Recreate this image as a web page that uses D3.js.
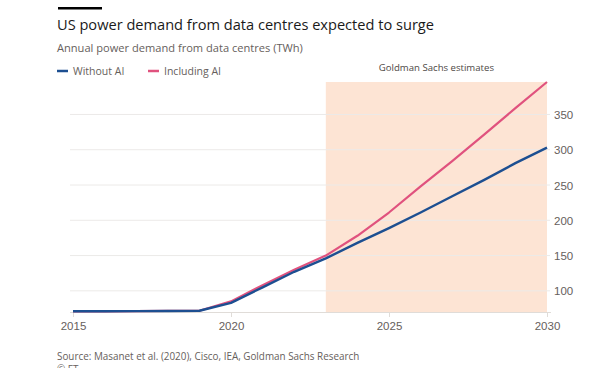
<!DOCTYPE html>
<html><head><meta charset="utf-8">
<script src="https://cdn.jsdelivr.net/npm/d3@7"></script>
<style>
html,body{margin:0;padding:0;background:#fff;}
svg{display:block;font-family:"Open Sans","Noto Sans",sans-serif;}
</style></head>
<body><svg id="c" width="602" height="368"></svg>
<script>
const years = [2015,2016,2017,2018,2019,2020,2021,2022,2023,2024,2025,2026,2027,2028,2029,2030];
const withoutAI = [71,71,71.2,71.5,71.8,83,105,127,146,168,189,211,234,257,281,303];
const includingAI = [71,71,71.2,71.5,71.8,85,108,130,150,178,211,248,284,321,359,396];
const yTicks = [100,150,200,250,300,350];
const xTicks = [2015,2020,2025,2030];
const estimateStart = 2023, estimateEnd = 2030;
const seriesNames = ["Without AI","Including AI"];
const seriesColors = ["#1d4f91","#e0527e"];

const svg = d3.select("#c");
const x = d3.scaleLinear().domain([2015,2030]).range([73,547]);
const y = d3.scaleLinear().domain([70,396]).range([312,82]);

// shaded estimates region
svg.append("rect").attr("x",x(estimateStart)).attr("y",y(396))
  .attr("width",x(estimateEnd)-x(estimateStart)).attr("height",y(70)-y(396))
  .attr("fill","#fde4d4");

// gridlines
svg.append("g").selectAll("line").data(yTicks).join("line")
  .attr("x1",70).attr("x2",550).attr("y1",d=>y(d)).attr("y2",d=>y(d))
  .attr("stroke","#eceae8").attr("stroke-width",1);

// y axis labels
const yAxis = d3.axisRight(y).tickValues(yTicks).tickSize(0).tickPadding(0);
const yg = svg.append("g").attr("transform","translate(554,0)").call(yAxis);
yg.select(".domain").remove();
yg.selectAll("text").attr("fill","#66605c").style("font-size","11.5px").attr("dy","0.35em");

// x axis
const xAxis = d3.axisBottom(x).tickValues(xTicks).tickFormat(d3.format("d")).tickSize(5).tickPadding(5);
const xg = svg.append("g").attr("transform",`translate(0,${y(70)})`).call(xAxis);
xg.select(".domain").attr("stroke","#e0dcd8").attr("d","M70,0.5H551");
xg.selectAll(".tick line").attr("stroke","#e0dcd8");
xg.selectAll("text").attr("fill","#66605c").style("font-size","11.5px");

// lines
const line = d3.line().x((d,i)=>x(years[i])).y(d=>y(d));
svg.append("path").datum(includingAI).attr("d",line).attr("fill","none")
  .attr("stroke",seriesColors[1]).attr("stroke-width",2.2).attr("stroke-linejoin","round");
svg.append("path").datum(withoutAI).attr("d",line).attr("fill","none")
  .attr("stroke",seriesColors[0]).attr("stroke-width",2.4).attr("stroke-linejoin","round");

// header
svg.append("rect").attr("x",58).attr("y",7).attr("width",44).attr("height",2.5).attr("fill","#000");
svg.append("text").attr("x",57).attr("y",30).text("US power demand from data centres expected to surge")
  .attr("fill","#1a1a1a").style("font-size","14.6px");
svg.append("text").attr("x",57).attr("y",52).text("Annual power demand from data centres (TWh)")
  .attr("fill","#66605c").style("font-size","11.1px");

// legend
const legX = [57,148];
seriesNames.forEach((n,i)=>{
  svg.append("line").attr("x1",legX[i]).attr("x2",legX[i]+11).attr("y1",71).attr("y2",71)
    .attr("stroke",seriesColors[i]).attr("stroke-width",2.5);
  svg.append("text").attr("x",legX[i]+16).attr("y",75).text(n)
    .attr("fill","#66605c").style("font-size","10.5px");
});

svg.append("text").attr("x",(x(estimateStart)+x(estimateEnd))/2).attr("y",71)
  .attr("text-anchor","middle").text("Goldman Sachs estimates")
  .attr("fill","#4d4845").style("font-size","9.6px");

svg.append("text").attr("x",57).attr("y",360).text("Source: Masanet et al. (2020), Cisco, IEA, Goldman Sachs Research")
  .attr("fill","#66605c").style("font-size","9.9px");
svg.append("text").attr("x",57).attr("y",373).text("© FT")
  .attr("fill","#66605c").style("font-size","9.9px");
</script></body></html>
